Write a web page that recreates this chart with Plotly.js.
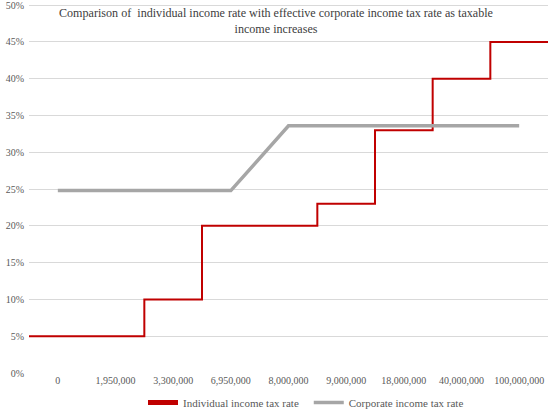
<!DOCTYPE html>
<html>
<head>
<meta charset="utf-8">
<script src="https://cdn.plot.ly/plotly-3.0.1.min.js"></script>
<style>html,body{margin:0;padding:0;background:#fff}#chart{width:550px;height:417px}</style>
</head>
<body>
<div id="chart"></div>
<script>
// Taxable income categories (x axis)
const categories = ["0", "1,950,000", "3,300,000", "6,950,000", "8,000,000", "9,000,000", "18,000,000", "40,000,000", "100,000,000"];
// Individual income tax rate (%) per category slot (drawn as steps across each slot)
const individualRate = [5, 5, 10, 20, 20, 23, 33, 40, 45];
// Effective corporate income tax rate (%) at each category
const corporateRate = [24.8, 24.8, 24.8, 24.8, 33.6, 33.6, 33.6, 33.6, 33.6];
const yTicks = [0, 5, 10, 15, 20, 25, 30, 35, 40, 45, 50];
const yTickLabels = yTicks.map(v => v + "%");
const titleText = "Comparison of  individual income rate with effective corporate income tax rate as taxable<br>income increases";

const idx = categories.map((c, i) => i);
// step line: each slot spans i-0.5 .. i+0.5
const stepX = idx.map(i => i - 0.5).concat([categories.length - 0.5]);
const stepY = individualRate.concat([individualRate[individualRate.length - 1]]);

const font = "Liberation Serif, DejaVu Serif, serif";

const traces = [
  {
    x: stepX, y: stepY, mode: "lines", line: {shape: "hv", color: "#c00000", width: 2},
    name: "Individual income tax rate", hoverinfo: "skip", showlegend: false
  },
  {
    x: idx, y: corporateRate, mode: "lines", line: {color: "#a6a6a6", width: 3.5},
    name: "Corporate income tax rate", hoverinfo: "skip", showlegend: false
  },
  // legend entries
  {
    x: [null], y: [null], mode: "lines", line: {color: "#c00000", width: 5},
    name: "Individual income tax rate", legend: "legend", showlegend: true
  },
  {
    x: [null], y: [null], mode: "lines", line: {color: "#a6a6a6", width: 3.5},
    name: "Corporate income tax rate", legend: "legend2", showlegend: true
  }
];

const legendBase = {
  orientation: "h", xanchor: "left", xref: "container",
  y: -0.005, yanchor: "bottom", yref: "container",
  font: {family: font, size: 11, color: "#595959"}
};

const layout = {
  width: 550, height: 417,
  margin: {l: 29, r: 2, t: 0, b: 44},
  paper_bgcolor: "#fff", plot_bgcolor: "#fff",
  font: {family: font, color: "#595959", size: 10},
  annotations: [{
    text: titleText, showarrow: false,
    xref: "paper", x: 0.476, xanchor: "center",
    yref: "paper", y: 0.99, yanchor: "top",
    align: "center",
    font: {family: font, size: 12.1, color: "#404040"}
  }],
  xaxis: {
    range: [-0.5, categories.length - 0.5],
    tickmode: "array", tickvals: idx, ticktext: categories,
    showgrid: false, zeroline: false, showline: false, ticks: "",
    tickfont: {family: font, size: 10, color: "#595959"},
    ticklabeloverflow: "allow",
    fixedrange: true
  },
  yaxis: {
    range: [0, 50.7],
    tickmode: "array", tickvals: yTicks, ticktext: yTickLabels,
    showgrid: true, gridcolor: "#d9d9d9", gridwidth: 1,
    zeroline: false, showline: false, ticks: "", ticklabelstandoff: 4,
    tickfont: {family: font, size: 10, color: "#595959"},
    ticklabeloverflow: "allow",
    fixedrange: true
  },
  showlegend: true,
  legend: Object.assign({}, legendBase, {x: 0.26}),
  legend2: Object.assign({}, legendBase, {x: 0.5614})
};

Plotly.newPlot("chart", traces, layout, {staticPlot: true, displayModeBar: false});
</script>
</body>
</html>
